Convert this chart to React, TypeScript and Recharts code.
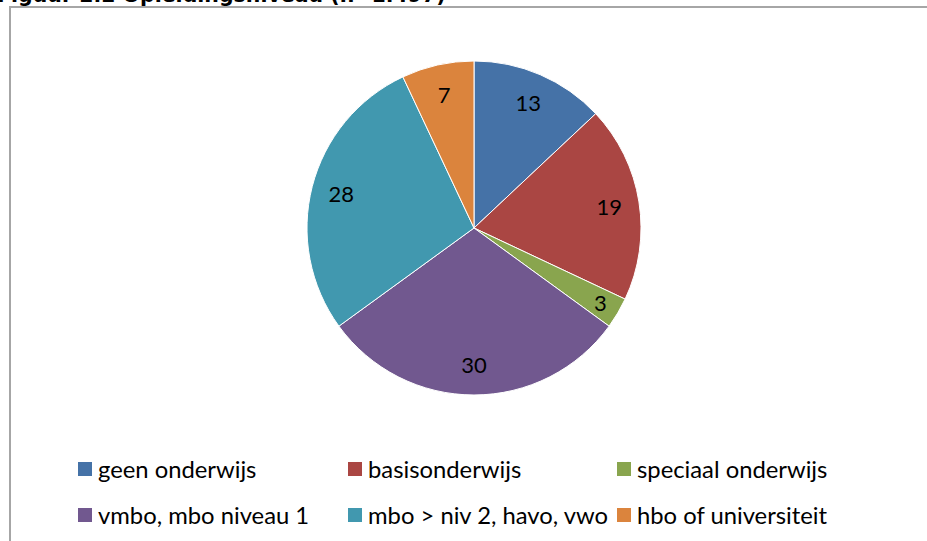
import React from "react";
import { PieChart, Pie, Cell } from "recharts";

const categories = [
  "geen onderwijs",
  "basisonderwijs",
  "speciaal onderwijs",
  "vmbo, mbo niveau 1",
  "mbo > niv 2, havo, vwo",
  "hbo of universiteit",
];
const values = [13, 19, 3, 30, 28, 7];
const colors = ["#4572A7", "#AA4643", "#89A54E", "#71588F", "#4198AF", "#DB843D"];

const data = categories.map((name, i) => ({ name, value: values[i] }));

const RAD = Math.PI / 180;

const renderLabel = ({ cx, cy, midAngle, outerRadius, value }: any) => {
  const r = outerRadius * (value < 5 ? 0.88 : 0.82);
  const x = cx + r * Math.cos(-midAngle * RAD);
  const y = cy + r * Math.sin(-midAngle * RAD);
  return (
    <text
      x={x}
      y={y}
      fill="#000"
      textAnchor="middle"
      dominantBaseline="central"
      fontFamily="Lato, sans-serif"
      fontSize={22}
    >
      {value}
    </text>
  );
};

export default function App() {
  return (
    <div style={{ position: "relative", width: 927, height: 541, overflow: "hidden", background: "#fff" }}>
      <style>{`body{margin:0}`}</style>
      <div
        style={{
          position: "absolute",
          left: -3,
          top: -17,
          fontFamily: "'DejaVu Sans', sans-serif",
          fontWeight: "bold",
          fontSize: 20.5,
          whiteSpace: "nowrap",
          color: "#000",
        }}
      >
        Figuur 2.2 Opleidingsniveau (n=1.497)
      </div>
      <div
        style={{
          position: "absolute",
          left: 9,
          top: 6,
          width: 1000,
          height: 600,
          border: "2px solid #a6a6a6",
          boxSizing: "border-box",
        }}
      />
      <div style={{ position: "absolute", left: 0, top: 0 }}>
        <PieChart width={927} height={541} margin={{ top: 0, right: 0, bottom: 0, left: 0 }}>
          <Pie
            data={data}
            dataKey="value"
            nameKey="name"
            cx={474}
            cy={228}
            outerRadius={167}
            startAngle={90}
            endAngle={-270}
            stroke="#ffffff"
            strokeWidth={1}
            label={renderLabel}
            labelLine={false}
            isAnimationActive={false}
          >
            {data.map((d, i) => (
              <Cell key={d.name} fill={colors[i]} />
            ))}
          </Pie>
        </PieChart>
      </div>
      {data.map((d, i) => {
        const col = i % 3;
        const row = Math.floor(i / 3);
        const left = [78, 348, 617][col];
        const top = [469, 515][row];
        return (
          <div
            key={d.name}
            style={{
              position: "absolute",
              left,
              top: top - 14,
              height: 28,
              display: "flex",
              alignItems: "center",
              whiteSpace: "nowrap",
              fontFamily: "Lato, sans-serif",
              fontSize: 23.8,
              color: "#000",
            }}
          >
            <span style={{ display: "inline-block", width: 14, height: 14, background: colors[i], marginRight: 6 }} />
            {d.name}
          </div>
        );
      })}
    </div>
  );
}
